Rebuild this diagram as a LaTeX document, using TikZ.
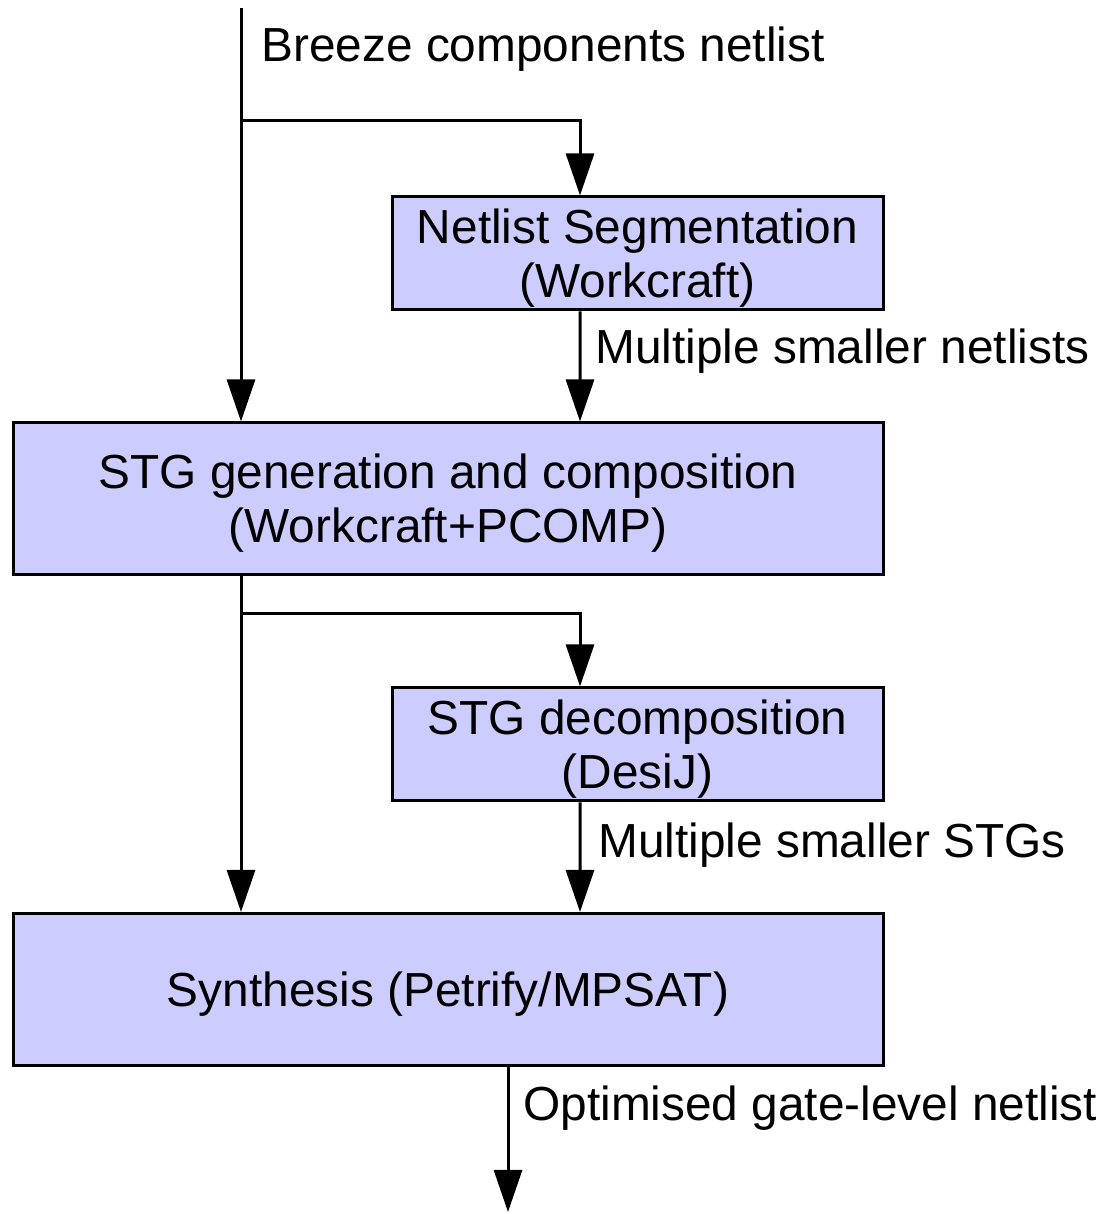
\documentclass[tikz,border=0pt]{standalone}
\usepackage{fontspec}
\setmainfont{Liberation Sans}
\usepackage{tikz}
\usetikzlibrary{arrows.meta}
\usetikzlibrary{positioning}
\definecolor{boxfill}{HTML}{CCCCFF}

\begin{document}
\begin{tikzpicture}[
ToolBox/.style={draw=black,fill=boxfill,line width=0.06cm,align=center,inner sep=0pt,text depth=0.6pt},
WideBox/.style={ToolBox,minimum width=17.4cm,minimum height=3.04cm},
SmallBox/.style={ToolBox,minimum width=9.82cm,minimum height=2.26cm},
FlowArrow/.style={line width=0.06cm,-{Triangle[length=0.84cm,width=0.56cm]}},
FlowLabel/.style={anchor=base west,inner sep=0pt},
every node/.style={font=\fontsize{27.2}{30.6}\selectfont}
]
\useasboundingbox (0,0) rectangle (22.12,24.28);

% boxes
\node [SmallBox] (seg)    at (12.75,19.21) {Netlist Segmentation\\(Workcraft)};
\node [WideBox]  (gen)    at (8.96,14.30)  {STG generation and composition\\(Workcraft+PCOMP)};
\node [SmallBox] (decomp) at (12.75,9.39)  {STG decomposition\\(DesiJ)};
\node [WideBox]  (synth)  at (8.96,4.49)   {Synthesis (Petrify/MPSAT)};

% points where the flow enters, splits and leaves
\coordinate (in)     at (4.82,24.12);
\coordinate (split1) at (4.82,21.86);
\coordinate (split2) at (4.82,12.00);
\coordinate (out)    at (10.16,0.04);

% Breeze netlist in
\draw[FlowArrow] (in) -- (in |- gen.north);
\draw[FlowArrow] (split1) -| ([xshift=-1.15cm]seg.north);
\draw[FlowArrow] ([xshift=-1.15cm]seg.south) -- ([xshift=2.64cm]gen.north);

% STGs
\draw[FlowArrow] (gen.south -| in) -- (synth.north -| in);
\draw[FlowArrow] (split2) -| ([xshift=-1.15cm]decomp.north);
\draw[FlowArrow] ([xshift=-1.15cm]decomp.south) -- ([xshift=2.64cm]synth.north);

% result
\draw[FlowArrow] (synth.south -| out) -- (out);

% labels
\node [FlowLabel] (lin)   at (5.22,23.04)  {Breeze components netlist};
\node [FlowLabel] (lseg)  at (11.90,17.00) {Multiple smaller netlists};
\node [FlowLabel] (ldec)  at (11.96,7.12)  {Multiple smaller STGs};
\node [FlowLabel] (lout)  at (10.46,1.86)  {Optimised gate-level netlist};

\end{tikzpicture}
\end{document}
